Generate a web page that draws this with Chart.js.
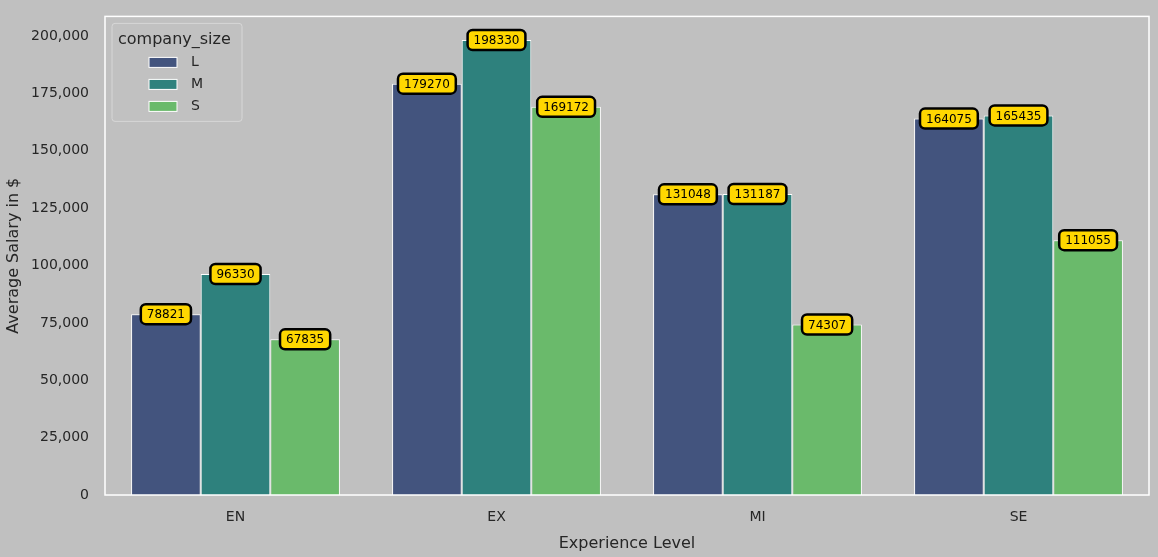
<!DOCTYPE html>
<html><head><meta charset="utf-8">
<script src="https://cdn.jsdelivr.net/npm/chart.js@4"></script>
<style>html,body{margin:0;padding:0;background:#c0c0c0;}#wrap{width:1158px;height:557px;}</style>
</head><body><div id="wrap"><canvas id="c" width="1158" height="557"></canvas></div>
<script>
const categories = ["EN", "EX", "MI", "SE"];
const seriesNames = ["L", "M", "S"];
const valuesL = [78821, 179270, 131048, 164075];
const valuesM = [96330, 198330, 131187, 165435];
const valuesS = [67835, 169172, 74307, 111055];
const colors = ["#43547e", "#2e817d", "#6aba6b"];

const FONT = "'DejaVu Sans', sans-serif";

const overlay = {
  id: 'overlay',
  afterDatasetsDraw(chart) {
    const ctx = chart.ctx, a = chart.chartArea;
    ctx.save();
    ctx.strokeStyle = '#ffffff'; ctx.lineWidth = 1.5;
    ctx.strokeRect(a.left, a.top, a.right - a.left, a.bottom - a.top);
    // value labels
    ctx.font = "12px " + FONT;
    ctx.textAlign = 'center'; ctx.textBaseline = 'middle';
    chart.data.datasets.forEach((ds, di) => {
      chart.getDatasetMeta(di).data.forEach((bar, i) => {
        const t = String(ds.data[i]);
        const w = ctx.measureText(t).width + 12, h = 20;
        const x = bar.x, y = bar.y;
        ctx.beginPath();
        ctx.roundRect(x - w / 2, y - h / 2, w, h, 5);
        ctx.fillStyle = '#ffd700'; ctx.fill();
        ctx.lineWidth = 2.5; ctx.strokeStyle = '#000'; ctx.stroke();
        ctx.fillStyle = '#000'; ctx.fillText(t, x, y + 1);
      });
    });
    // legend
    const lx = a.left + 7, ly = a.top + 7, lw = 130, lh = 98;
    ctx.beginPath(); ctx.roundRect(lx, ly, lw, lh, 3);
    ctx.fillStyle = 'rgba(192,192,192,0.8)'; ctx.fill();
    ctx.strokeStyle = 'rgba(215,215,215,1)'; ctx.lineWidth = 1; ctx.stroke();
    ctx.fillStyle = '#262626'; ctx.textAlign = 'left';
    ctx.font = "16px " + FONT;
    ctx.fillText("company_size", lx + 6, ly + 16);
    ctx.font = "14px " + FONT;
    seriesNames.forEach((n, k) => {
      const yy = ly + 39 + k * 22;
      ctx.fillStyle = colors[k];
      ctx.fillRect(lx + 37, yy - 5, 28, 10);
      ctx.strokeStyle = '#fff'; ctx.lineWidth = 1;
      ctx.strokeRect(lx + 37, yy - 5, 28, 10);
      ctx.fillStyle = '#262626';
      ctx.fillText(n, lx + 79, yy);
    });
    ctx.restore();
  }
};

new Chart(document.getElementById('c'), {
  type: 'bar',
  data: {
    labels: categories,
    datasets: [valuesL, valuesM, valuesS].map((d, k) => ({
      label: seriesNames[k], data: d, backgroundColor: colors[k],
      borderColor: '#ffffff', borderWidth: 1,
      categoryPercentage: 0.8, barPercentage: 1.0
    }))
  },
  options: {
    responsive: false, animation: false, devicePixelRatio: 1,
    layout: { padding: { top: 10, right: 9, left: 0, bottom: 0 } },
    plugins: { legend: { display: false }, tooltip: { enabled: false } },
    scales: {
      x: {
        grid: { display: false }, border: { display: false },
        ticks: { color: '#262626', font: { family: FONT, size: 14 }, padding: 6 },
        title: { display: true, text: 'Experience Level', color: '#262626', font: { family: FONT, size: 16 }, padding: { top: 4 } },
        afterFit(s) { s.height = 62; }
      },
      y: {
        min: 0, max: 208600,
        grid: { display: false }, border: { display: false },
        afterBuildTicks(s) { s.ticks = [0,25000,50000,75000,100000,125000,150000,175000,200000].map(v => ({ value: v })); },
        ticks: { color: '#262626', font: { family: FONT, size: 14 }, padding: 8 },
        title: { display: true, text: 'Average Salary in $', color: '#262626', font: { family: FONT, size: 16 }, padding: { bottom: 4 } },
        afterFit(s) { s.width = 105; }
      }
    }
  },
  plugins: [overlay]
});
</script></body></html>
